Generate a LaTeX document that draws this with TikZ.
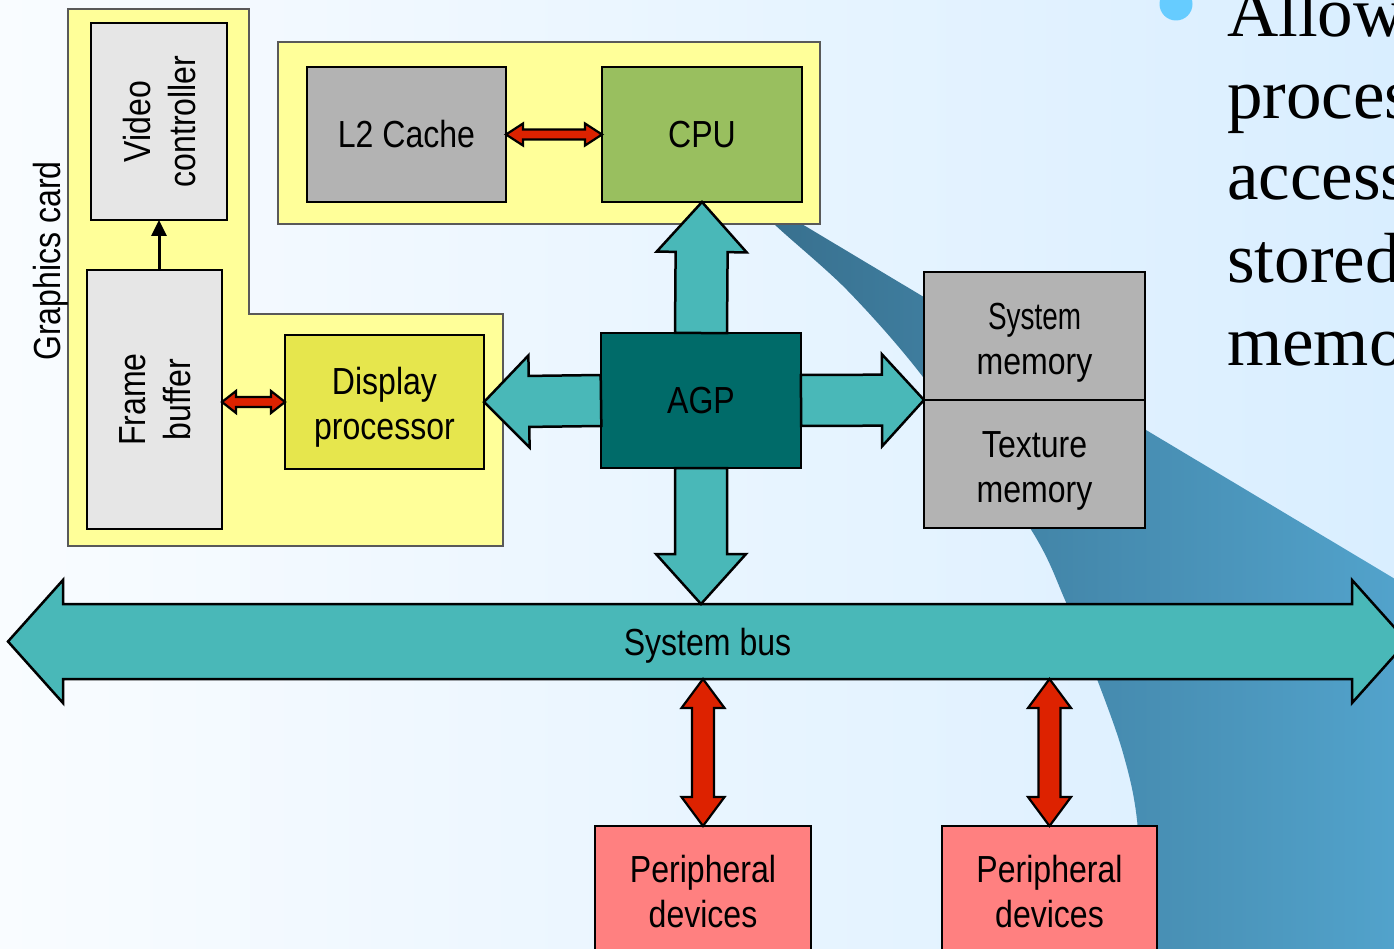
\documentclass[tikz,border=0pt]{standalone}
\usepackage{fontspec}
\setmainfont[FakeStretch=0.85]{Liberation Sans}
\newfontfamily\condensedface[FakeStretch=0.74]{Liberation Sans}
\newfontfamily\slideserif{Liberation Serif}
\usetikzlibrary{calc,arrows.meta}

\pgfdeclarelayer{backdrop}
\pgfdeclarelayer{busbar}
\pgfsetlayers{backdrop,busbar,main}

\definecolor{pageleft}{HTML}{F9FCFF}
\definecolor{pageright}{HTML}{D9EEFF}
\definecolor{swooshleft}{HTML}{376E8C}
\definecolor{swooshright}{HTML}{52A3CC}
\definecolor{bulletblue}{HTML}{66CCFF}
\definecolor{cardyellow}{HTML}{FFFF99}
\definecolor{unitgrey}{HTML}{E6E6E6}
\definecolor{memgrey}{HTML}{B3B3B3}
\definecolor{dispyellow}{HTML}{E6E64D}
\definecolor{cpugreen}{HTML}{99BF5F}
\definecolor{agpteal}{HTML}{006B69}
\definecolor{busteal}{HTML}{49B8B8}
\definecolor{linkred}{HTML}{DD2200}
\definecolor{periphpink}{HTML}{FF8080}

\newcommand\labelfont{\fontsize{37.7}{45}\selectfont}
% invisible struts that nudge a label block down (top) or up (bottom)
\newcommand\topstrut[1]{\rule{0pt}{#1}}
\newcommand\botstrut[1]{\rule[-#1]{0pt}{#1}}

\tikzset{
  box/.style={draw=black, line width=2.5pt, inner sep=0pt, outer sep=0pt,
              align=center, font=\labelfont},
  region/.style={fill=cardyellow, draw=black!65, line width=1.1pt},
  bigarrow/.style={fill=busteal, draw=black, line width=2.5pt, line join=miter},
  smallarrow/.style={fill=linkred, draw=black, line width=2.2pt, line join=miter},
  serifline/.style={anchor=base west, inner sep=0pt,
                    font=\slideserif\fontsize{71}{82}\selectfont},
}

% block arrow with heads at both ends:
% style, from, to, shaft half-width, head half-width, head length
\newcommand\twowayarrow[6]{%
  \draw[#1] let \p1=(#2), \p2=(#3),
      \n1={atan2(\y2-\y1,\x2-\x1)}, \n2={veclen(\x2-\x1,\y2-\y1)} in
    [shift={(\p1)}, rotate=\n1]
    (0,0) -- (#6,#5) -- (#6,#4) -- (\n2-#6,#4) -- (\n2-#6,#5) -- (\n2,0)
    -- (\n2-#6,-#5) -- (\n2-#6,-#4) -- (#6,-#4) -- (#6,-#5) -- cycle;}

% block arrow with a head at the far end only
\newcommand\onewayarrow[6]{%
  \draw[#1] let \p1=(#2), \p2=(#3),
      \n1={atan2(\y2-\y1,\x2-\x1)}, \n2={veclen(\x2-\x1,\y2-\y1)} in
    [shift={(\p1)}, rotate=\n1]
    (0,#4) -- (\n2-#6,#4) -- (\n2-#6,#5) -- (\n2,0) -- (\n2-#6,-#5)
    -- (\n2-#6,-#4) -- (0,-#4) -- cycle;}

\begin{document}
\begin{tikzpicture}[x=1pt, y=-1pt]
\useasboundingbox (0,0) rectangle (1394,949);

\begin{pgfonlayer}{backdrop}
  % slide background
  \shade[left color=pageleft, right color=pageright] (0,0) rectangle (1394,949);
  % curved band on the right
  \shade[left color=swooshleft, right color=swooshright]
    (745,190) -- (1400,582) -- (1400,960)
    -- plot[smooth] coordinates {(1146,960) (1137,820) (1123,753) (1100,687)
      (1065,600) (1030,528) (923,377) (847,290) (773,223) (745,190)} -- cycle;
  % bullet and its text
  \fill[bulletblue] (1176,4) circle (16.5);
  \node[serifline] (s1) at (1227,37)  {Allow};
  \node[serifline] (s2) at (1227,119) {proces};
  \node[serifline] (s3) at (1227,200) {access};
  \node[serifline] (s4) at (1227,283) {stored};
  \node[serifline] (s5) at (1227,365) {memo};
  % graphics card and CPU areas
  \draw[region] (68,9) -- (249,9) -- (249,314) -- (503,314) -- (503,546)
    -- (68,546) -- cycle;
  \draw[region] (278,42) rectangle (820,224);
\end{pgfonlayer}

\node[anchor=base, rotate=90, inner sep=0pt, font=\labelfont] (gc)
  at (60,261) {Graphics card};

% units
\node[box, fill=unitgrey, minimum width=136, minimum height=197] (vc)
  at (159,121.5)
  {\rotatebox{90}{\begin{tabular}{@{}c@{}}\topstrut{41.5pt}Video\\controller\end{tabular}}};
\node[box, fill=unitgrey, minimum width=135, minimum height=259] (fb)
  at (154.5,399.5)
  {\rotatebox{90}{\begin{tabular}{@{}c@{}}\topstrut{40pt}Frame\\buffer\end{tabular}}};
\node[box, fill=dispyellow, minimum width=199, minimum height=134] (dp)
  at (384.5,402) {\topstrut{37pt}Display\\processor};
\node[box, fill=memgrey, minimum width=199, minimum height=135] (l2)
  at (406.5,134.5) {L2 Cache};
\node[box, fill=cpugreen, minimum width=200, minimum height=135] (cpu)
  at (702,134.5) {CPU};
\node[box, fill=agpteal, minimum width=200, minimum height=135] (agp)
  at (701,400.5) {AGP};
\node[box, fill=memgrey, minimum width=221, minimum height=128] (sysmem)
  at (1034.5,336) {\topstrut{39.5pt}{\condensedface System}\\memory};
\node[box, fill=memgrey, minimum width=221, minimum height=128] (texmem)
  at (1034.5,464) {\topstrut{40pt}Texture\\memory};
\node[box, fill=periphpink, minimum width=216, minimum height=134] (per1)
  at (703,893) {Peripheral\\devices\botstrut{4pt}};
\node[box, fill=periphpink, minimum width=215, minimum height=134] (per2)
  at (1049.5,893) {Peripheral\\devices\botstrut{4pt}};

% system bus
\node[inner sep=0pt, outer sep=0pt, minimum width=1289, minimum height=75,
      font=\labelfont] (bus) at (707.5,641.5) {\topstrut{35pt}System bus};
\begin{pgfonlayer}{busbar}
  \draw[bigarrow] (bus.north west) -- ++(0,-24) -- ++(-55,61.5) -- ++(55,61.5)
    -- (bus.south west) -- (bus.south east) -- ++(0,24) -- ++(55,-61.5)
    -- ++(-55,-61.5) -- (bus.north east) -- cycle;
\end{pgfonlayer}

% AGP links
\onewayarrow{bigarrow}{agp.north}{cpu.south}{26}{45}{50}
\onewayarrow{bigarrow}{agp.south}{agp.south |- bus.north}{26}{45}{50}
\onewayarrow{bigarrow}{agp.west}{dp.east}{25.5}{46}{45}
\onewayarrow{bigarrow}{agp.east}{sysmem.south west}{25.5}{46}{42}

% red links
\twowayarrow{smallarrow}{l2.east}{cpu.west}{5}{11}{17}
\twowayarrow{smallarrow}{fb.east |- dp.west}{dp.west}{5}{11}{14}
\twowayarrow{smallarrow}{per1.north |- bus.south}{per1.north}{11}{21.5}{29}
\twowayarrow{smallarrow}{per2.north |- bus.south}{per2.north}{11}{21.5}{29}

% frame buffer feeds the video controller
\draw[line width=3pt, -{Triangle[length=16pt,width=15pt]}]
  (vc.south |- fb.north) -- (vc.south);
\end{tikzpicture}
\end{document}
